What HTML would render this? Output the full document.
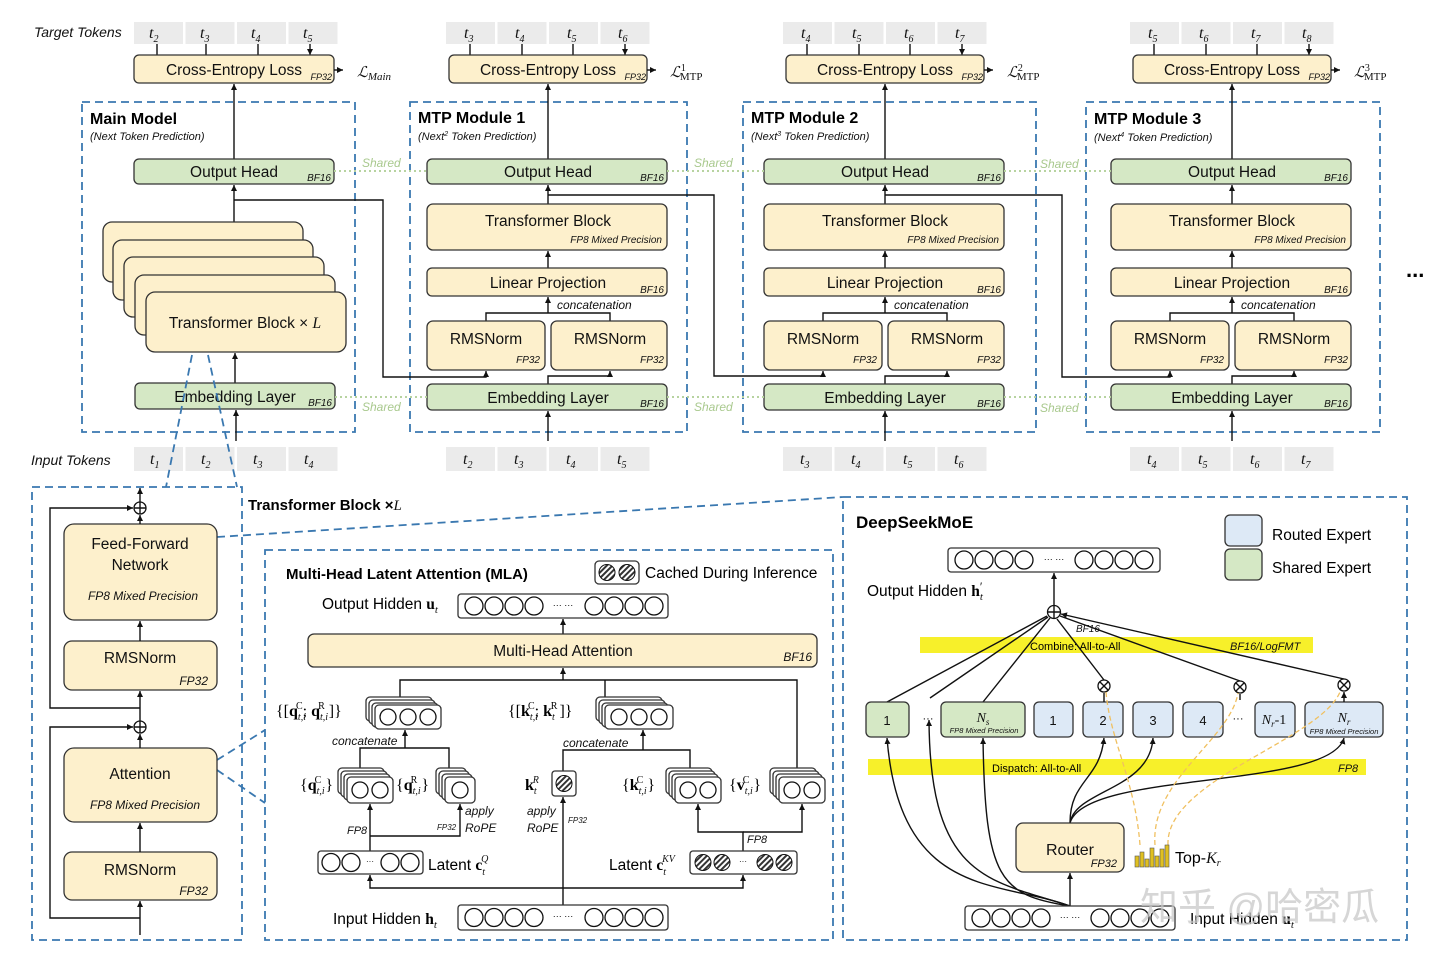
<!DOCTYPE html>
<html><head><meta charset="utf-8"><style>
body{margin:0;background:#fff}
svg{display:block;font-family:"Liberation Sans","Noto Sans CJK SC",sans-serif}
.y{fill:#fdf0cc;stroke:#333;stroke-width:1.3}
.g{fill:#d5e8c5;stroke:#333;stroke-width:1.3}
.b{fill:#dde9f6;stroke:#333;stroke-width:1.3}
.tk{fill:#ebebeb}
.d{fill:none;stroke:#3a78b0;stroke-width:1.8;stroke-dasharray:8,5}
.l{fill:none;stroke:#111;stroke-width:1.4}
.la{fill:none;stroke:#111;stroke-width:1.4;marker-end:url(#ar)}
.sh{stroke:#b7d3a0;stroke-width:2;stroke-dasharray:2,3}
.t{font-size:15.5px;fill:#111;text-anchor:middle}
.s{font-size:10px;font-style:italic;fill:#111;text-anchor:end}
.i{font-style:italic;fill:#111}
.v{fill:#fff;stroke:#333;stroke-width:1.3}
.c{fill:#fff;stroke:#111;stroke-width:1.3}
</style></head><body>
<svg width="1440" height="960" viewBox="0 0 1440 960">
<defs>
<marker id="ar" markerWidth="8" markerHeight="8" refX="6" refY="3" orient="auto" markerUnits="userSpaceOnUse"><path d="M0,0 L6,3 L0,6z" fill="#111"/></marker>
<pattern id="hat" width="4" height="4" patternUnits="userSpaceOnUse" patternTransform="rotate(45)"><rect width="4" height="4" fill="#fff"/><rect width="2" height="4" fill="#333"/></pattern>
<g id="mtp">
 <rect class="tk" x="446" y="22" width="49" height="22"/><rect class="tk" x="497.5" y="22" width="49" height="22"/><rect class="tk" x="549" y="22" width="49" height="22"/><rect class="tk" x="600.5" y="22" width="49" height="22"/>
 <path class="la" d="M470,44V55M522,44V55M573,44V55M625,44V55"/>
 <rect class="y" x="449" y="55" width="198" height="28" rx="5"/>
 <text class="t" x="548" y="75">Cross-Entropy Loss</text><text class="s" x="646" y="80" style="font-size:9px">FP32</text>
 <path class="la" d="M647,70H656"/>
 <path class="la" d="M548,159V84"/>
 <rect class="g" x="427" y="159" width="240" height="25" rx="5"/>
 <text class="t" x="548" y="177">Output Head</text><text class="s" x="664" y="181">BF16</text>
 <path class="la" d="M548,204V185"/>
 <rect class="y" x="427" y="204" width="240" height="46" rx="6"/>
 <text class="t" x="548" y="226">Transformer Block</text><text class="s" x="662" y="243">FP8 Mixed Precision</text>
 <path class="la" d="M548,268V251"/>
 <rect class="y" x="427" y="268" width="240" height="28" rx="5"/>
 <text class="t" x="548" y="288">Linear Projection</text><text class="s" x="664" y="293">BF16</text>
 <text class="i" x="557" y="309" style="font-size:12px">concatenation</text>
 <path class="la" d="M548,313V297"/><path class="l" d="M486,321V313H610V321"/>
 <rect class="y" x="427" y="321" width="118" height="49" rx="6"/><rect class="y" x="551" y="321" width="116" height="49" rx="6"/>
 <text class="t" x="486" y="344">RMSNorm</text><text class="t" x="610" y="344">RMSNorm</text>
 <text class="s" x="540" y="363">FP32</text><text class="s" x="664" y="363">FP32</text>
 <path class="la" d="M548,384V376H610V371"/>
 <rect class="g" x="427" y="384" width="240" height="26" rx="5"/>
 <text class="t" x="548" y="403">Embedding Layer</text><text class="s" x="664" y="407">BF16</text>
 <path class="la" d="M548,441V411"/>
 <rect class="tk" x="446" y="447" width="49" height="24"/><rect class="tk" x="497.5" y="447" width="49" height="24"/><rect class="tk" x="549" y="447" width="49" height="24"/><rect class="tk" x="600.5" y="447" width="49" height="24"/>
</g>
</defs>

<!-- ===== TOP ===== -->
<text class="i" x="34" y="37" style="font-size:14px">Target Tokens</text>
<text class="i" x="31" y="465" style="font-size:14px">Input Tokens</text>
<!-- Main model -->
<rect class="d" x="82" y="102" width="273" height="330"/>
<text x="90" y="124" style="font-size:16px;font-weight:bold">Main Model</text>
<text class="i" x="90" y="140" style="font-size:11px">(Next Token Prediction)</text>
<rect class="tk" x="134" y="22" width="49" height="22"/><rect class="tk" x="185.5" y="22" width="49" height="22"/><rect class="tk" x="237" y="22" width="49" height="22"/><rect class="tk" x="288.5" y="22" width="49" height="22"/>
<path class="la" d="M157,44V55M206,44V55M258,44V55M310,44V55"/>
<rect class="y" x="134" y="55" width="200" height="28" rx="5"/>
<text class="t" x="234" y="75">Cross-Entropy Loss</text><text class="s" x="332" y="80" style="font-size:9px">FP32</text>
<path class="la" d="M334,70H343"/>
<text class="i" x="357" y="77" style="font-size:15px;font-family:'Liberation Serif',serif">ℒ<tspan style="font-size:11px" dy="3">Main</tspan></text>
<path class="la" d="M234,159V84"/>
<rect class="g" x="134" y="159" width="200" height="25" rx="5"/>
<text class="t" x="234" y="177">Output Head</text><text class="s" x="331" y="181">BF16</text>
<path class="la" d="M234,222V185"/>
<rect class="y" x="103" y="222" width="200" height="60" rx="9"/>
<rect class="y" x="113" y="240" width="200" height="60" rx="9"/>
<rect class="y" x="124" y="257" width="200" height="60" rx="9"/>
<rect class="y" x="135" y="275" width="200" height="60" rx="9"/>
<rect class="y" x="146" y="292" width="200" height="60" rx="9"/>
<text class="t" x="245" y="328">Transformer Block × <tspan class="i" style="font-family:'Liberation Serif',serif">L</tspan></text>
<path class="la" d="M235,383V353"/>
<rect class="g" x="135" y="383" width="200" height="26" rx="5"/>
<text class="t" x="235" y="402">Embedding Layer</text><text class="s" x="332" y="406">BF16</text>
<path class="la" d="M236,441V410"/>
<rect class="tk" x="134" y="447" width="49" height="24"/><rect class="tk" x="185.5" y="447" width="49" height="24"/><rect class="tk" x="237" y="447" width="49" height="24"/><rect class="tk" x="288.5" y="447" width="49" height="24"/>
<g class="i" style="font-size:16px;font-family:'Liberation Serif',serif">
<text x="149" y="38">t<tspan style="font-size:10px" dy="4">2</tspan></text><text x="200" y="38">t<tspan style="font-size:10px" dy="4">3</tspan></text><text x="251" y="38">t<tspan style="font-size:10px" dy="4">4</tspan></text><text x="303" y="38">t<tspan style="font-size:10px" dy="4">5</tspan></text>
<text x="150" y="464">t<tspan style="font-size:10px" dy="4">1</tspan></text><text x="201" y="464">t<tspan style="font-size:10px" dy="4">2</tspan></text><text x="253" y="464">t<tspan style="font-size:10px" dy="4">3</tspan></text><text x="304" y="464">t<tspan style="font-size:10px" dy="4">4</tspan></text>
</g>

<!-- MTP modules -->
<rect class="d" x="410" y="102" width="277" height="330"/>
<rect class="d" x="743" y="102" width="293" height="330"/>
<rect class="d" x="1086" y="102" width="294" height="330"/>
<use href="#mtp"/>
<use href="#mtp" transform="translate(337,0)"/>
<use href="#mtp" transform="translate(684,0)"/>
<g style="font-size:16px;font-weight:bold">
<text x="418" y="123">MTP Module 1</text><text x="751" y="123">MTP Module 2</text><text x="1094" y="124">MTP Module 3</text></g>
<g class="i" style="font-size:11px">
<text x="418" y="140">(Next<tspan style="font-size:7px" dy="-4">2</tspan><tspan dy="4"> Token Prediction)</tspan></text>
<text x="751" y="140">(Next<tspan style="font-size:7px" dy="-4">3</tspan><tspan dy="4"> Token Prediction)</tspan></text>
<text x="1094" y="141">(Next<tspan style="font-size:7px" dy="-4">4</tspan><tspan dy="4"> Token Prediction)</tspan></text></g>
<g class="i" style="font-size:15px;font-family:'Liberation Serif',serif">
<text x="670" y="77">ℒ<tspan style="font-size:10px;font-style:normal" dy="-6">1</tspan><tspan style="font-size:11px;font-style:normal" dx="-6" dy="9">MTP</tspan></text>
<text x="1007" y="77">ℒ<tspan style="font-size:10px;font-style:normal" dy="-6">2</tspan><tspan style="font-size:11px;font-style:normal" dx="-6" dy="9">MTP</tspan></text>
<text x="1354" y="77">ℒ<tspan style="font-size:10px;font-style:normal" dy="-6">3</tspan><tspan style="font-size:11px;font-style:normal" dx="-6" dy="9">MTP</tspan></text>
</g>
<g class="i" style="font-size:16px;font-family:'Liberation Serif',serif">
<text x="464" y="38">t<tspan style="font-size:10px" dy="4">3</tspan></text><text x="515" y="38">t<tspan style="font-size:10px" dy="4">4</tspan></text><text x="567" y="38">t<tspan style="font-size:10px" dy="4">5</tspan></text><text x="618" y="38">t<tspan style="font-size:10px" dy="4">6</tspan></text>
<text x="801" y="38">t<tspan style="font-size:10px" dy="4">4</tspan></text><text x="852" y="38">t<tspan style="font-size:10px" dy="4">5</tspan></text><text x="904" y="38">t<tspan style="font-size:10px" dy="4">6</tspan></text><text x="955" y="38">t<tspan style="font-size:10px" dy="4">7</tspan></text>
<text x="1148" y="38">t<tspan style="font-size:10px" dy="4">5</tspan></text><text x="1199" y="38">t<tspan style="font-size:10px" dy="4">6</tspan></text><text x="1251" y="38">t<tspan style="font-size:10px" dy="4">7</tspan></text><text x="1302" y="38">t<tspan style="font-size:10px" dy="4">8</tspan></text>
<text x="463" y="464">t<tspan style="font-size:10px" dy="4">2</tspan></text><text x="514" y="464">t<tspan style="font-size:10px" dy="4">3</tspan></text><text x="566" y="464">t<tspan style="font-size:10px" dy="4">4</tspan></text><text x="617" y="464">t<tspan style="font-size:10px" dy="4">5</tspan></text>
<text x="800" y="464">t<tspan style="font-size:10px" dy="4">3</tspan></text><text x="851" y="464">t<tspan style="font-size:10px" dy="4">4</tspan></text><text x="903" y="464">t<tspan style="font-size:10px" dy="4">5</tspan></text><text x="954" y="464">t<tspan style="font-size:10px" dy="4">6</tspan></text>
<text x="1147" y="464">t<tspan style="font-size:10px" dy="4">4</tspan></text><text x="1198" y="464">t<tspan style="font-size:10px" dy="4">5</tspan></text><text x="1250" y="464">t<tspan style="font-size:10px" dy="4">6</tspan></text><text x="1301" y="464">t<tspan style="font-size:10px" dy="4">7</tspan></text>
</g>
<!-- shared dotted -->
<path class="sh" d="M334,171H427M667,171H764M1004,171H1111M335,397H427M667,397H764M1004,397H1111"/>
<g class="i" style="font-size:12px;fill:#a9c98e">
<text x="362" y="167">Shared</text><text x="694" y="167">Shared</text><text x="1040" y="168">Shared</text>
<text x="362" y="411">Shared</text><text x="694" y="411">Shared</text><text x="1040" y="412">Shared</text></g>
<!-- cross-module lines -->
<path class="la" d="M234,200H383V377H486V371"/>
<path class="la" d="M548,195H714V376H823V371"/>
<path class="la" d="M885,195H1062V377H1170V371"/>
<text x="1406" y="277" style="font-size:22px;font-weight:bold">...</text>

<!-- zoom dashed -->
<path class="d" d="M192,355L166,487M208,355L237,487M217,537L843,497M217,760L265,730M217,770L265,803"/>

<!-- ===== Bottom-left Transformer block ===== -->
<rect class="d" x="32" y="487" width="210" height="453"/>
<text x="248" y="510" style="font-size:15px;font-weight:bold">Transformer Block ×<tspan class="i" style="font-weight:normal;font-family:'Liberation Serif',serif">L</tspan></text>
<rect class="y" x="64" y="524" width="153" height="96" rx="10"/>
<text class="t" x="140" y="549">Feed-Forward</text><text class="t" x="140" y="570">Network</text>
<text class="i" x="143" y="600" style="font-size:12px;text-anchor:middle">FP8 Mixed Precision</text>
<rect class="y" x="64" y="641" width="153" height="49" rx="8"/>
<text class="t" x="140" y="663">RMSNorm</text><text class="s" x="208" y="685" style="font-size:12px">FP32</text>
<rect class="y" x="64" y="748" width="153" height="74" rx="10"/>
<text class="t" x="140" y="779">Attention</text>
<text class="i" x="145" y="809" style="font-size:12px;text-anchor:middle">FP8 Mixed Precision</text>
<rect class="y" x="64" y="852" width="153" height="48" rx="8"/>
<text class="t" x="140" y="875">RMSNorm</text><text class="s" x="208" y="895" style="font-size:12px">FP32</text>
<circle class="c" cx="140" cy="508" r="6"/><path class="l" d="M134,508H146M140,502V514"/>
<circle class="c" cx="140" cy="727" r="6"/><path class="l" d="M134,727H146M140,721V733"/>
<path class="la" d="M140,502V488"/>
<path class="la" d="M140,524V515"/><path class="la" d="M140,641V621"/><path class="la" d="M140,721V691"/>
<path class="la" d="M140,748V734"/><path class="la" d="M140,852V823"/><path class="la" d="M140,935V901"/>
<path class="la" d="M140,708H50V508H133"/>
<path class="la" d="M140,918H50V727H133"/>

<!-- ===== MLA ===== -->
<rect class="d" x="265" y="550" width="568" height="390"/>
<text x="286" y="579" style="font-size:15px;font-weight:bold">Multi-Head Latent Attention (MLA)</text>
<rect x="595" y="561" width="44" height="23" rx="4" class="v"/>
<circle cx="607" cy="572.5" r="8" fill="url(#hat)" stroke="#111"/><circle cx="627" cy="572.5" r="8" fill="url(#hat)" stroke="#111"/>
<text x="645" y="578" style="font-size:15.5px">Cached During Inference</text>
<text x="322" y="609" style="font-size:15.5px">Output Hidden <tspan style="font-weight:bold;font-family:'Liberation Serif',serif">u</tspan><tspan class="i" style="font-size:11px;font-family:'Liberation Serif',serif" dy="4">t</tspan></text>
<rect class="v" x="458" y="594" width="210" height="24" rx="3"/>
<g class="c"><circle cx="474" cy="606" r="9"/><circle cx="494" cy="606" r="9"/><circle cx="514" cy="606" r="9"/><circle cx="534" cy="606" r="9"/><circle cx="594" cy="606" r="9"/><circle cx="614" cy="606" r="9"/><circle cx="634" cy="606" r="9"/><circle cx="654" cy="606" r="9"/></g>
<text x="563" y="608" style="font-size:9px;text-anchor:middle">··· ···</text>
<path class="la" d="M563,634V619"/>
<rect class="y" x="308" y="634" width="509" height="33" rx="6"/>
<text class="t" x="563" y="656">Multi-Head Attention</text><text class="s" x="812" y="661" style="font-size:12px">BF16</text>
<path class="la" d="M563,680V668"/><path class="l" d="M400,697V680H797V768M605,680V697"/>
<!-- q stack -->
<g class="v"><rect x="366" y="697" width="66" height="24" rx="4"/><rect x="369" y="700" width="66" height="24" rx="4"/><rect x="372" y="703" width="66" height="24" rx="4"/><rect x="375" y="705" width="66" height="24" rx="4"/></g>
<g class="c"><circle cx="388" cy="717" r="8"/><circle cx="408" cy="717" r="8"/><circle cx="428" cy="717" r="8"/></g>
<text x="276" y="716" style="font-size:16px;font-family:'Liberation Serif',serif">{[<tspan font-weight="bold">q</tspan><tspan class="i" style="font-size:10px" dy="4">t,i</tspan><tspan style="font-size:10px" dx="-10" dy="-11">C</tspan><tspan dy="7">; </tspan><tspan font-weight="bold">q</tspan><tspan class="i" style="font-size:10px" dy="4">t,i</tspan><tspan style="font-size:10px" dx="-10" dy="-11">R</tspan><tspan dx="4" dy="7">]}</tspan></text>
<text class="i" x="332" y="745" style="font-size:12px">concatenate</text>
<path class="la" d="M405,748V730"/><path class="l" d="M360,768V748H449V768"/>
<!-- k stack -->
<g class="v"><rect x="596" y="697" width="66" height="24" rx="4"/><rect x="599" y="700" width="66" height="24" rx="4"/><rect x="602" y="703" width="66" height="24" rx="4"/><rect x="605" y="705" width="68" height="24" rx="4"/></g>
<g class="c"><circle cx="619" cy="717" r="8"/><circle cx="639" cy="717" r="8"/><circle cx="659" cy="717" r="8"/></g>
<text x="508" y="716" style="font-size:16px;font-family:'Liberation Serif',serif">{[<tspan font-weight="bold">k</tspan><tspan class="i" style="font-size:10px" dy="4">t,i</tspan><tspan style="font-size:10px" dx="-10" dy="-11">C</tspan><tspan dy="7">; </tspan><tspan font-weight="bold">k</tspan><tspan class="i" style="font-size:10px" dy="4">t</tspan><tspan style="font-size:10px" dx="-4" dy="-11">R</tspan><tspan dx="2" dy="7">]}</tspan></text>
<text class="i" x="563" y="747" style="font-size:12px">concatenate</text>
<path class="la" d="M643,750V730"/><path class="l" d="M563,771V750H690V768"/>
<!-- q^C / q^R -->
<g class="v"><rect x="338" y="768" width="46" height="26" rx="4"/><rect x="341" y="771" width="46" height="26" rx="4"/><rect x="344" y="774" width="46" height="26" rx="4"/><rect x="347" y="777" width="46" height="26" rx="4"/>
<rect x="436" y="768" width="30" height="26" rx="4"/><rect x="439" y="771" width="30" height="26" rx="4"/><rect x="442" y="774" width="30" height="26" rx="4"/><rect x="445" y="777" width="30" height="26" rx="4"/></g>
<g class="c"><circle cx="360" cy="790" r="8"/><circle cx="380" cy="790" r="8"/><circle cx="460" cy="790" r="8"/></g>
<text x="300" y="790" style="font-size:16px;font-family:'Liberation Serif',serif">{<tspan font-weight="bold">q</tspan><tspan class="i" style="font-size:10px" dy="4">t,i</tspan><tspan style="font-size:10px" dx="-10" dy="-11">C</tspan><tspan dx="4" dy="7">}</tspan></text>
<text x="396" y="790" style="font-size:16px;font-family:'Liberation Serif',serif">{<tspan font-weight="bold">q</tspan><tspan class="i" style="font-size:10px" dy="4">t,i</tspan><tspan style="font-size:10px" dx="-10" dy="-11">R</tspan><tspan dx="4" dy="7">}</tspan></text>
<text class="i" x="465" y="815" style="font-size:12px">apply</text><text class="i" x="465" y="832" style="font-size:12px">RoPE</text>
<text class="i" x="347" y="834" style="font-size:11px">FP8</text><text class="i" x="437" y="830" style="font-size:8px">FP32</text>
<path class="la" d="M370,851V804"/><path class="la" d="M370,836H460V804"/>
<rect class="v" x="318" y="851" width="105" height="23" rx="3"/>
<g class="c"><circle cx="331" cy="862.5" r="9"/><circle cx="351" cy="862.5" r="9"/><circle cx="390" cy="862.5" r="9"/><circle cx="410" cy="862.5" r="9"/></g>
<text x="370" y="864" style="font-size:8px;text-anchor:middle">···</text>
<text x="428" y="870" style="font-size:15.5px">Latent <tspan style="font-weight:bold;font-family:'Liberation Serif',serif">c</tspan><tspan class="i" style="font-size:10px;font-family:'Liberation Serif',serif" dy="5">t</tspan><tspan class="i" style="font-size:10px;font-family:'Liberation Serif',serif" dx="-4" dy="-13">Q</tspan></text>
<!-- kR -->
<text x="525" y="790" style="font-size:16px;font-weight:bold;font-family:'Liberation Serif',serif">k<tspan class="i" style="font-size:10px;font-weight:normal" dy="4">t</tspan><tspan class="i" style="font-size:10px;font-weight:normal" dx="-4" dy="-11">R</tspan></text>
<rect class="v" x="552" y="771" width="24" height="25" rx="3"/><circle cx="564" cy="783.5" r="8" fill="url(#hat)" stroke="#111"/>
<text class="i" x="527" y="815" style="font-size:12px">apply</text><text class="i" x="527" y="832" style="font-size:12px">RoPE</text>
<text class="i" x="568" y="823" style="font-size:8px">FP32</text>
<path class="la" d="M563,905V797"/>
<!-- kC vC -->
<g class="v"><rect x="666" y="768" width="46" height="26" rx="4"/><rect x="669" y="771" width="46" height="26" rx="4"/><rect x="672" y="774" width="46" height="26" rx="4"/><rect x="675" y="777" width="46" height="26" rx="4"/>
<rect x="770" y="768" width="46" height="26" rx="4"/><rect x="773" y="771" width="46" height="26" rx="4"/><rect x="776" y="774" width="46" height="26" rx="4"/><rect x="779" y="777" width="46" height="26" rx="4"/></g>
<g class="c"><circle cx="688" cy="790" r="8"/><circle cx="708" cy="790" r="8"/><circle cx="792" cy="790" r="8"/><circle cx="812" cy="790" r="8"/></g>
<text x="622" y="790" style="font-size:16px;font-family:'Liberation Serif',serif">{<tspan font-weight="bold">k</tspan><tspan class="i" style="font-size:10px" dy="4">t,i</tspan><tspan style="font-size:10px" dx="-10" dy="-11">C</tspan><tspan dx="4" dy="7">}</tspan></text>
<text x="729" y="790" style="font-size:16px;font-family:'Liberation Serif',serif">{<tspan font-weight="bold">v</tspan><tspan class="i" style="font-size:10px" dy="4">t,i</tspan><tspan style="font-size:10px" dx="-10" dy="-11">C</tspan><tspan dx="4" dy="7">}</tspan></text>
<path class="la" d="M743,851V832H698V804"/><path class="la" d="M743,832H802V804"/>
<text class="i" x="747" y="843" style="font-size:11px">FP8</text>
<rect class="v" x="690" y="851" width="107" height="23" rx="3"/>
<g stroke="#111"><circle cx="703" cy="862.5" r="8" fill="url(#hat)"/><circle cx="722" cy="862.5" r="8" fill="url(#hat)"/><circle cx="765" cy="862.5" r="8" fill="url(#hat)"/><circle cx="784" cy="862.5" r="8" fill="url(#hat)"/></g>
<text x="743" y="864" style="font-size:8px;text-anchor:middle">···</text>
<text x="609" y="870" style="font-size:15.5px">Latent <tspan style="font-weight:bold;font-family:'Liberation Serif',serif">c</tspan><tspan class="i" style="font-size:10px;font-family:'Liberation Serif',serif" dy="5">t</tspan><tspan class="i" style="font-size:10px;font-family:'Liberation Serif',serif" dx="-4" dy="-13">KV</tspan></text>
<path class="la" d="M563,888H370V875"/><path class="la" d="M563,888H743V875"/>
<text x="333" y="924" style="font-size:15.5px">Input Hidden <tspan style="font-weight:bold;font-family:'Liberation Serif',serif">h</tspan><tspan class="i" style="font-size:11px;font-family:'Liberation Serif',serif" dy="4">t</tspan></text>
<rect class="v" x="458" y="905" width="210" height="25" rx="3"/>
<g class="c"><circle cx="474" cy="917.5" r="9"/><circle cx="494" cy="917.5" r="9"/><circle cx="514" cy="917.5" r="9"/><circle cx="534" cy="917.5" r="9"/><circle cx="594" cy="917.5" r="9"/><circle cx="614" cy="917.5" r="9"/><circle cx="634" cy="917.5" r="9"/><circle cx="654" cy="917.5" r="9"/></g>
<text x="563" y="919" style="font-size:9px;text-anchor:middle">··· ···</text>

<!-- ===== DeepSeekMoE ===== -->
<rect class="d" x="843" y="497" width="564" height="443"/>
<text x="856" y="528" style="font-size:17px;font-weight:bold">DeepSeekMoE</text>
<rect class="b" x="1225" y="515" width="37" height="31" rx="5"/><rect class="g" x="1225" y="549" width="37" height="31" rx="5"/>
<text x="1272" y="540" style="font-size:15.5px">Routed Expert</text><text x="1272" y="573" style="font-size:15.5px">Shared Expert</text>
<rect class="v" x="948" y="548" width="212" height="24" rx="3"/>
<g class="c"><circle cx="964" cy="560" r="9"/><circle cx="984" cy="560" r="9"/><circle cx="1004" cy="560" r="9"/><circle cx="1024" cy="560" r="9"/><circle cx="1084" cy="560" r="9"/><circle cx="1104" cy="560" r="9"/><circle cx="1124" cy="560" r="9"/><circle cx="1144" cy="560" r="9"/></g>
<text x="1054" y="562" style="font-size:9px;text-anchor:middle">··· ···</text>
<text x="867" y="596" style="font-size:15.5px">Output Hidden <tspan style="font-weight:bold;font-family:'Liberation Serif',serif">h</tspan><tspan class="i" style="font-size:11px;font-family:'Liberation Serif',serif" dy="4">t</tspan><tspan style="font-size:11px" dx="-3" dy="-10">′</tspan></text>
<rect x="920" y="637" width="393" height="16" fill="#f7f02a"/>
<rect x="868" y="759" width="498" height="16" fill="#f7f02a"/>
<text x="1030" y="650" style="font-size:11px">Combine: All-to-All</text><text class="i" x="1230" y="650" style="font-size:11px">BF16/LogFMT</text>
<text x="992" y="772" style="font-size:11px">Dispatch:  All-to-All</text><text class="i" x="1338" y="772" style="font-size:11px">FP8</text>
<path class="la" d="M1054,606V573"/>
<text class="i" x="1076" y="632" style="font-size:10px">BF16</text>
<path class="la" d="M887,702L1047,616M930,698L1048,617M983,702L1050,618M1104,680L1057,619M1240,681L1060,616M1344,679L1061,614"/>
<circle class="c" cx="1054" cy="612" r="6.5"/><path class="l" d="M1047.5,612H1060.5M1054,605.5V618.5"/>
<!-- experts -->
<rect class="g" x="866" y="702" width="43" height="35" rx="5"/><text class="t" x="887" y="725" style="font-size:13px">1</text>
<text x="928" y="722" style="font-size:11px;text-anchor:middle">···</text>
<rect class="g" x="941" y="702" width="84" height="35" rx="5"/>
<text class="i" x="983" y="722" style="font-size:14px;text-anchor:middle;font-family:'Liberation Serif',serif">N<tspan style="font-size:9px" dy="3">s</tspan></text>
<text class="i" x="984" y="733" style="font-size:7.5px;text-anchor:middle">FP8 Mixed Precision</text>
<rect class="b" x="1034" y="702" width="39" height="35" rx="5"/><text class="t" x="1053" y="725" style="font-size:13px">1</text>
<rect class="b" x="1083" y="702" width="40" height="35" rx="5"/><text class="t" x="1103" y="725" style="font-size:13px">2</text>
<rect class="b" x="1133" y="702" width="40" height="35" rx="5"/><text class="t" x="1153" y="725" style="font-size:13px">3</text>
<rect class="b" x="1183" y="702" width="40" height="35" rx="5"/><text class="t" x="1203" y="725" style="font-size:13px">4</text>
<text x="1238" y="722" style="font-size:11px;text-anchor:middle">···</text>
<rect class="b" x="1255" y="702" width="40" height="35" rx="5"/><text class="i" x="1274" y="724" style="font-size:14px;text-anchor:middle;font-family:'Liberation Serif',serif">N<tspan style="font-size:9px" dy="3">r</tspan><tspan dy="-3" style="font-style:normal">-1</tspan></text>
<rect class="b" x="1305" y="702" width="78" height="35" rx="5"/>
<text class="i" x="1344" y="722" style="font-size:14px;text-anchor:middle;font-family:'Liberation Serif',serif">N<tspan style="font-size:9px" dy="3">r</tspan></text>
<text class="i" x="1344" y="734" style="font-size:7.5px;text-anchor:middle">FP8 Mixed Precision</text>
<path class="la" d="M1104,702V693M1240,700V694M1344,702V692"/>
<g class="c"><circle cx="1104" cy="686" r="6"/><circle cx="1240" cy="687" r="6"/><circle cx="1344" cy="685" r="6"/></g>
<path class="l" d="M1100,682L1108,690M1108,682L1100,690M1236,683L1244,691M1244,683L1236,691M1340,681L1348,689M1348,681L1340,689"/>
<!-- dispatch curves -->
<path class="la" d="M1070,906C1000,880 900,900 887,738"/>
<path class="la" d="M1070,906C990,880 930,880 929,720"/>
<path class="la" d="M1070,906C1000,895 985,880 983,738"/>
<path class="la" d="M1070,906V873"/>
<path class="la" d="M1070,823C1070,780 1100,780 1104,738"/>
<path class="la" d="M1070,823C1075,790 1150,790 1153,738"/>
<path class="la" d="M1070,823C1085,770 1330,790 1344,738"/>
<path d="M1140,845C1135,780 1110,740 1106,692M1155,845C1150,780 1230,740 1238,693M1168,845C1165,780 1320,740 1340,692" fill="none" stroke="#f0c060" stroke-width="1.3" stroke-dasharray="5,3"/>
<rect class="y" x="1016" y="823" width="108" height="49" rx="7"/>
<text class="t" x="1070" y="855" style="font-size:16px">Router</text><text class="s" x="1117" y="867" style="font-size:11px">FP32</text>
<g fill="#e0c020" stroke="#555" stroke-width="0.6"><rect x="1135" y="856" width="4" height="11"/><rect x="1140" y="852" width="4" height="15"/><rect x="1145" y="859" width="4" height="8"/><rect x="1150" y="848" width="4" height="19"/><rect x="1155" y="856" width="4" height="11"/><rect x="1160" y="849" width="4" height="18"/><rect x="1165" y="845" width="4" height="22"/></g>
<text x="1175" y="863" style="font-size:16px">Top-<tspan class="i" style="font-family:'Liberation Serif',serif">K<tspan style="font-size:10px" dy="3">r</tspan></tspan></text>
<rect class="v" x="965" y="906" width="210" height="24" rx="3"/>
<g class="c"><circle cx="981" cy="918" r="9"/><circle cx="1001" cy="918" r="9"/><circle cx="1021" cy="918" r="9"/><circle cx="1041" cy="918" r="9"/><circle cx="1100" cy="918" r="9"/><circle cx="1120" cy="918" r="9"/><circle cx="1140" cy="918" r="9"/><circle cx="1160" cy="918" r="9"/></g>
<text x="1070" y="920" style="font-size:9px;text-anchor:middle">··· ···</text>
<text x="1190" y="924" style="font-size:15.5px">Input Hidden <tspan style="font-weight:bold;font-family:'Liberation Serif',serif">u</tspan><tspan class="i" style="font-size:11px;font-family:'Liberation Serif',serif" dy="4">t</tspan></text>
<text x="1140" y="920" style="font-size:38px;fill:#c8c8c8;fill-opacity:0.75;font-family:'Liberation Sans','Noto Sans CJK SC',sans-serif">知乎 @哈密瓜</text>
</svg>
</body></html>
